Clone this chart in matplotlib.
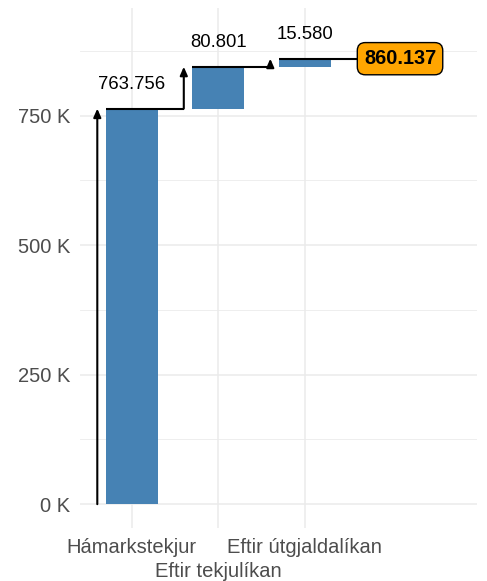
import matplotlib.pyplot as plt
import numpy as np
from matplotlib.ticker import FixedLocator, FuncFormatter

plt.rcParams['font.family'] = ['Liberation Sans', 'DejaVu Sans']

# data
categories = ["Hámarkstekjur", "Eftir tekjulíkan", "Eftir útgjaldalíkan"]
changes = [763756, 80801, 15580]
major_ticks = [0, 250000, 500000, 750000]
minor_ticks = [125000, 375000, 625000, 875000]


def fmt_is(v):
    # íslenskt þúsundaskil
    return f"{v:,}".replace(",", ".")


x = np.arange(len(categories))
ends = np.cumsum(changes)
starts = ends - np.array(changes)
total = int(ends[-1])
total_x = len(categories) + 0.1

fig = plt.figure(figsize=(4.87, 5.81), dpi=100)
ax = fig.add_axes([80/487, 1-528/581, (477-80)/487, (528-8)/581])

ax.bar(x, changes, bottom=starts, width=0.6, color='#4682B4', zorder=2)

arrow = dict(arrowstyle='-|>,head_length=0.5,head_width=0.22', lw=1.5,
             color='black', shrinkA=0, shrinkB=0)
for i in range(len(x)):
    ax.annotate('', xy=(x[i]-0.4, ends[i]), xytext=(x[i]-0.4, starts[i]),
                arrowprops=arrow, zorder=4)
    x_end = x[i]+0.6 if i < len(x)-1 else total_x
    ax.plot([x[i]-0.3, x_end], [ends[i], ends[i]], color='black', lw=1.5,
            zorder=3, solid_capstyle='butt')
    ax.text(x[i], ends[i]+38000, fmt_is(changes[i]), ha='center',
            va='baseline', fontsize=13.3, color='black')

ax.text(total_x, total, fmt_is(total), ha='center', va='center',
        fontsize=14.4, fontweight='bold', zorder=5,
        bbox=dict(boxstyle='round,pad=0.33,rounding_size=0.4', fc='#FFA500',
                  ec='black', lw=1))

ax.set_xlim(-0.6, 3.99)
ax.set_ylim(-46000, 958000)

ax.set_xticks(x, categories)
ax.yaxis.set_major_locator(FixedLocator(major_ticks))
ax.yaxis.set_minor_locator(FixedLocator(minor_ticks))
ax.yaxis.set_major_formatter(FuncFormatter(lambda v, p: f"{v/1000:.0f} K"))

ax.tick_params(axis='both', which='both', length=0, labelsize=14.5,
               labelcolor='#4D4D4D')
ax.tick_params(axis='x', pad=7)
ax.tick_params(axis='y', pad=7.2)

# annar hver merkimiði neðar (n.dodge = 2)
for j, lab in enumerate(ax.get_xticklabels()):
    if j % 2 == 1:
        lab.set_y(-24 / 520)

ax.grid(which='major', color='#EBEBEB', lw=1.1, zorder=0)
ax.grid(which='minor', axis='y', color='#EBEBEB', lw=0.6, zorder=0)
ax.set_axisbelow(True)
for s in ax.spines.values():
    s.set_visible(False)

plt.savefig("out.png", dpi=100)
